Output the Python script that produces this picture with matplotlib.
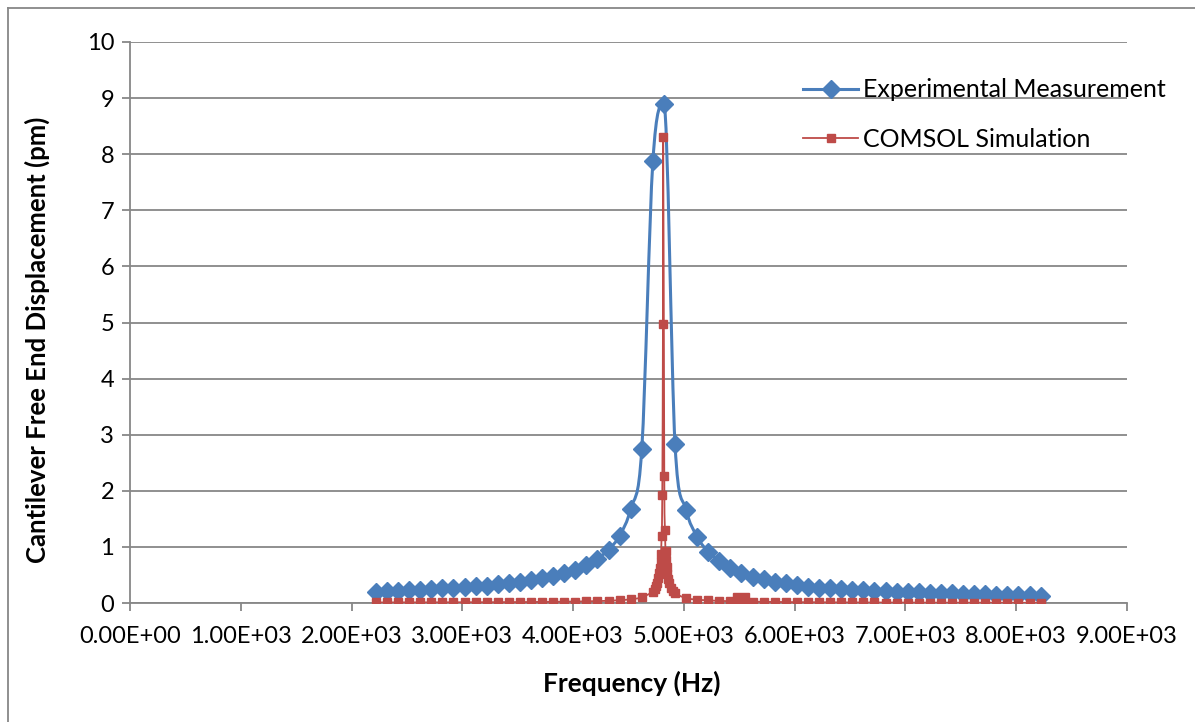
import matplotlib
matplotlib.use("Agg")
import matplotlib.pyplot as plt
import numpy as np
from matplotlib.path import Path
from matplotlib.patches import PathPatch
from matplotlib.lines import Line2D

# Experimental sweep, 100 Hz steps
exp_freq = [2220, 2320, 2420, 2520, 2620, 2720, 2820, 2920, 3020, 3120,
            3220, 3320, 3420, 3520, 3620, 3720, 3820, 3920, 4020, 4120,
            4220, 4320, 4420, 4520, 4620, 4720, 4820, 4920, 5020, 5120,
            5220, 5320, 5420, 5520, 5620, 5720, 5820, 5920, 6020, 6120,
            6220, 6320, 6420, 6520, 6620, 6720, 6820, 6920, 7020, 7120,
            7220, 7320, 7420, 7520, 7620, 7720, 7820, 7920, 8020, 8120,
            8220]
exp_disp = [0.20, 0.21, 0.22, 0.23, 0.24, 0.25, 0.26, 0.27, 0.28, 0.30,
            0.31, 0.33, 0.35, 0.38, 0.41, 0.44, 0.48, 0.53, 0.59, 0.67,
            0.79, 0.95, 1.20, 1.68, 2.75, 7.87, 8.90, 2.83, 1.66, 1.18,
            0.91, 0.75, 0.62, 0.54, 0.47, 0.42, 0.38, 0.35, 0.32, 0.29,
            0.27, 0.26, 0.25, 0.24, 0.23, 0.22, 0.21, 0.20, 0.195, 0.19,
            0.18, 0.175, 0.17, 0.165, 0.16, 0.155, 0.15, 0.145, 0.14, 0.135,
            0.13]

# COMSOL frequency response, refined around the resonance
sim_freq = [2220, 2320, 2420, 2520, 2620, 2720, 2820, 2920, 3020, 3120,
            3220, 3320, 3420, 3520, 3620, 3720, 3820, 3920, 4020, 4120,
            4220, 4320, 4420, 4520, 4620,
            4720, 4735, 4750, 4760, 4770, 4778, 4785, 4790, 4793, 4799,
            4805, 4811, 4813, 4823, 4829, 4835, 4840, 4845, 4852, 4860,
            4870, 4885, 4900, 4920,
            5020, 5120, 5220, 5320, 5420, 5520, 5620, 5720, 5820, 5920,
            6020, 6120, 6220, 6320, 6420, 6520, 6620, 6720, 6820, 6920,
            7020, 7120, 7220, 7320, 7420, 7520, 7620, 7720, 7820, 7920,
            8020, 8120, 8220]
sim_disp = [0.010, 0.010, 0.011, 0.011, 0.011, 0.012, 0.012, 0.013, 0.013, 0.014,
            0.014, 0.015, 0.016, 0.017, 0.018, 0.020, 0.021, 0.024, 0.026, 0.030,
            0.034, 0.040, 0.050, 0.066, 0.10,
            0.20, 0.25, 0.30, 0.36, 0.44, 0.53, 0.63, 0.73, 0.87, 1.20,
            1.93, 4.98, 8.30, 2.27, 1.30, 0.92, 0.76, 0.65, 0.52, 0.43,
            0.35, 0.27, 0.22, 0.17,
            0.085, 0.060, 0.047, 0.038, 0.032, 0.027, 0.024, 0.021, 0.019, 0.017,
            0.015, 0.014, 0.013, 0.012, 0.011, 0.010, 0.0095, 0.009, 0.0085, 0.008,
            0.0075, 0.007, 0.0065, 0.006, 0.0058, 0.0055, 0.0052, 0.005, 0.0048, 0.0046,
            0.0044, 0.0042, 0.004]
sim_big_freq = 5520  # one point drawn with an enlarged marker

x_ticks = [0, 1000, 2000, 3000, 4000, 5000, 6000, 7000, 8000, 9000]
x_labels = ["0.00E+00", "1.00E+03", "2.00E+03", "3.00E+03", "4.00E+03",
            "5.00E+03", "6.00E+03", "7.00E+03", "8.00E+03", "9.00E+03"]

BLUE = "#4a7ebb"
RED = "#be4b48"
GRID = "#878787"
FONT = "Lato"


def smooth_path(xs, ys):
    """Bezier through the points, spreadsheet-style smoothing.
    Tangents are flattened at local peaks so the curve does not overshoot."""
    pts = np.column_stack([xs, ys]).astype(float)
    n = len(pts)
    tang = np.zeros_like(pts)
    for i in range(n):
        a = pts[max(i - 1, 0)]
        b = pts[min(i + 1, n - 1)]
        tang[i] = (b - a) / 6.0
        if 0 < i < n - 1:
            dy0 = pts[i, 1] - a[1]
            dy1 = b[1] - pts[i, 1]
            if dy0 * dy1 < 0:
                tang[i, 1] = 0.0
    verts = [pts[0]]
    codes = [Path.MOVETO]
    for i in range(n - 1):
        verts += [pts[i] + tang[i], pts[i + 1] - tang[i + 1], pts[i + 1]]
        codes += [Path.CURVE4] * 3
    return Path(verts, codes)


fig = plt.figure(figsize=(11.95, 7.22), dpi=100)
ax = fig.add_axes([130 / 1195, 1 - 603 / 722, 997 / 1195, 561 / 722])

ax.add_patch(PathPatch(smooth_path(exp_freq, exp_disp), facecolor="none",
                       edgecolor=BLUE, lw=2.2, zorder=3))
ax.plot(exp_freq, exp_disp, ls="none", marker="D", ms=9, color=BLUE,
        mec=BLUE, zorder=4)

ax.add_patch(PathPatch(smooth_path(sim_freq, sim_disp), facecolor="none",
                       edgecolor=RED, lw=1.3, zorder=5))
ax.plot(sim_freq, sim_disp, ls="none", marker="s", ms=5.5, color=RED,
        mec=RED, zorder=6)
ax.plot([sim_big_freq], [sim_disp[sim_freq.index(sim_big_freq)]], ls="none",
        marker="s", ms=11, color=RED, mec=RED, zorder=6)

ax.set_xlim(0, 9000)
ax.set_ylim(0, 10)
ax.set_xticks(x_ticks)
ax.set_xticklabels(x_labels)
ax.set_yticks(range(0, 11))
ax.yaxis.grid(True, color=GRID, lw=1.3)
ax.set_axisbelow(True)
for s in ["top", "right"]:
    ax.spines[s].set_visible(False)
for s in ["left", "bottom"]:
    ax.spines[s].set_color(GRID)
    ax.spines[s].set_linewidth(1.3)
ax.tick_params(axis="both", direction="out", length=5.5, width=1.3,
               color=GRID, labelsize=17)
ax.tick_params(axis="y", pad=6)
ax.tick_params(axis="x", pad=11)
for lab in ax.get_xticklabels() + ax.get_yticklabels():
    lab.set_fontfamily(FONT)

ax.set_xlabel("Frequency (Hz)", fontsize=19, fontweight="bold",
              fontfamily=FONT, va="center", ha="center")
ax.set_ylabel("Cantilever Free End Displacement (pm)", fontsize=18.5,
              fontweight="bold", fontfamily=FONT, va="center", ha="center")
ax.xaxis.set_label_coords(0.503, -0.1426)
ax.yaxis.set_label_coords(-0.093, 0.47)

handles = [Line2D([], [], color=BLUE, lw=2.2, marker="D", ms=9),
           Line2D([], [], color=RED, lw=1.3, marker="s", ms=6)]
ax.legend(handles, ["Experimental Measurement", "COMSOL Simulation"],
          loc="upper left", bbox_to_anchor=(0.665, 0.953), frameon=False,
          prop={"family": FONT, "size": 18}, handlelength=2.2,
          labelspacing=1.05, handletextpad=0.2, borderaxespad=0)

# chart area border (left and top edges)
fig.add_artist(Line2D([8 / 1195, 8 / 1195], [0, 1 - 8 / 722],
                      color=GRID, lw=1.3, transform=fig.transFigure))
fig.add_artist(Line2D([8 / 1195, 1], [1 - 8 / 722, 1 - 8 / 722],
                      color=GRID, lw=1.3, transform=fig.transFigure))

fig.savefig("out.png", dpi=100, facecolor="white")
